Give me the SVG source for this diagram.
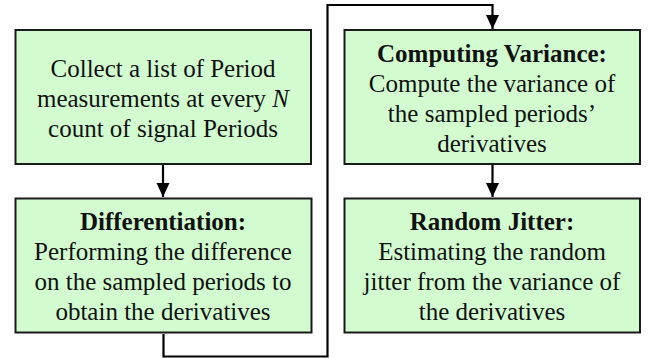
<svg xmlns="http://www.w3.org/2000/svg" width="650" height="358" viewBox="0 0 650 358">
<defs>
<style>
.box{fill:#d2fcd0;stroke:#1a1a1a;stroke-width:2}
.t{font-family:"Liberation Serif","Times New Roman",serif;font-size:25px;fill:#111;text-anchor:middle}
.b{font-weight:bold}
.c{fill:none;stroke:#000;stroke-width:2.2}
</style>
<marker id="ah" markerUnits="userSpaceOnUse" markerWidth="14" markerHeight="16" refX="14" refY="6.5" orient="auto" viewBox="0 0 14 13">
<path d="M0,0 L14,6.5 L0,13 Z" fill="#000"/>
</marker>
</defs>
<rect width="650" height="358" fill="#fff"/>
<g id="connectors">
<path class="c" d="M163,165 V197" marker-end="url(#ah)"/>
<path class="c" d="M492.5,165 V197" marker-end="url(#ah)"/>
<path class="c" d="M163.5,334 V356.5 H327.5 V5 H492.5 V29" marker-end="url(#ah)"/>
</g>
<g id="collect">
<rect class="box" x="15.5" y="30" width="295.5" height="134"/>
<text class="t" x="163" y="77">Collect a list of Period</text>
<text class="t" x="163" y="107">measurements at every <tspan font-style="italic">N</tspan></text>
<text class="t" x="163" y="137">count of signal Periods</text>
</g>
<g id="variance">
<rect class="box" x="344.5" y="30" width="295.5" height="134"/>
<text class="t b" x="492" y="62">Computing Variance:</text>
<text class="t" x="492" y="92">Compute the variance of</text>
<text class="t" x="492" y="122">the sampled periods’</text>
<text class="t" x="492" y="152">derivatives</text>
</g>
<g id="differentiation">
<rect class="box" x="15.5" y="198.5" width="296" height="134"/>
<text class="t b" x="163" y="230">Differentiation:</text>
<text class="t" x="163" y="260">Performing the difference</text>
<text class="t" x="163" y="290">on the sampled periods to</text>
<text class="t" x="163" y="320">obtain the derivatives</text>
</g>
<g id="jitter">
<rect class="box" x="344.5" y="198.5" width="295.5" height="134"/>
<text class="t b" x="492" y="230">Random Jitter:</text>
<text class="t" x="492" y="260">Estimating the random</text>
<text class="t" x="492" y="290">jitter from the variance of</text>
<text class="t" x="492" y="320">the derivatives</text>
</g>
</svg>
